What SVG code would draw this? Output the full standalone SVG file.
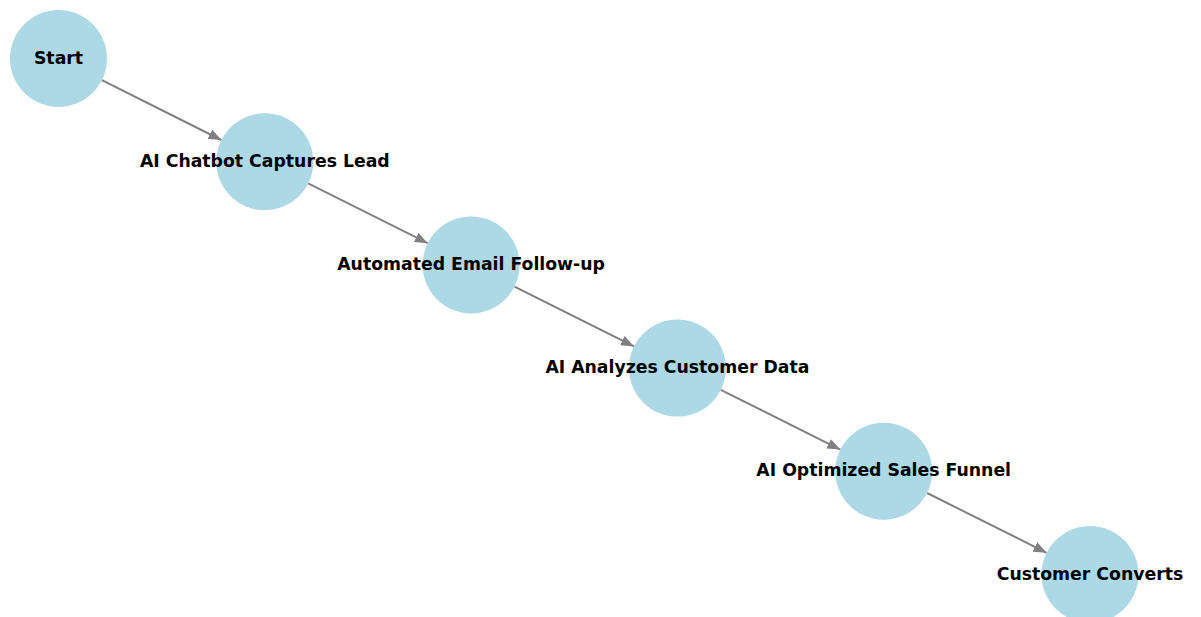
<svg xmlns="http://www.w3.org/2000/svg" width="1201" height="617" viewBox="0 0 1201 617">
<style>
.n{fill:#add8e6}
.t{font-family:"DejaVu Sans",sans-serif;font-weight:bold;font-size:17.3px;fill:#000;text-anchor:middle}
.e{stroke:#808080;stroke-width:2;fill:none;marker-end:url(#ah)}
</style>
<defs>
<marker id="ah" viewBox="0 0 10 8" refX="10" refY="4" markerWidth="6.5" markerHeight="5.2" markerUnits="strokeWidth" orient="auto">
<path d="M0,0 L10,4 L0,8 Z" fill="#808080"/>
</marker>
</defs>
<rect width="1201" height="617" fill="#fff"/>
<g id="edges">
<line class="e" x1="101.9" y1="80.2" x2="221.4" y2="140"/>
<line class="e" x1="308.2" y1="183.4" x2="427.7" y2="243.2"/>
<line class="e" x1="514.5" y1="286.6" x2="634" y2="346.4"/>
<line class="e" x1="720.8" y1="389.8" x2="840.3" y2="449.6"/>
<line class="e" x1="927.1" y1="493" x2="1046.6" y2="552.8"/>
</g>
<g id="n1"><circle class="n" cx="58.5" cy="58.5" r="48.5"/><text class="t" x="58.5" y="63.5">Start</text></g>
<g id="n2"><circle class="n" cx="264.8" cy="161.7" r="48.5"/><text class="t" x="264.8" y="166.7">AI Chatbot Captures Lead</text></g>
<g id="n3"><circle class="n" cx="471.1" cy="264.9" r="48.5"/><text class="t" x="471.1" y="269.9">Automated Email Follow-up</text></g>
<g id="n4"><circle class="n" cx="677.4" cy="368.1" r="48.5"/><text class="t" x="677.4" y="373.1">AI Analyzes Customer Data</text></g>
<g id="n5"><circle class="n" cx="883.7" cy="471.3" r="48.5"/><text class="t" x="883.7" y="476.3">AI Optimized Sales Funnel</text></g>
<g id="n6"><circle class="n" cx="1090" cy="574.5" r="48.5"/><text class="t" x="1090" y="579.5">Customer Converts</text></g>
</svg>
